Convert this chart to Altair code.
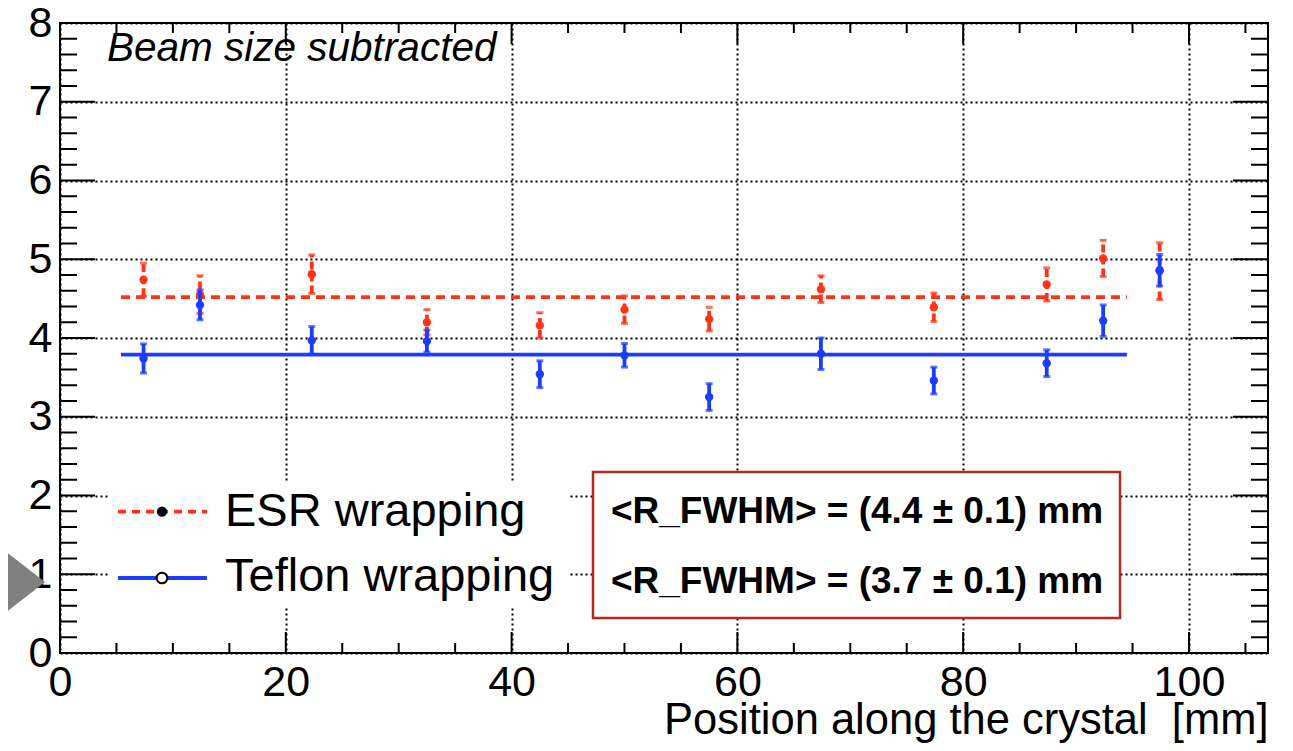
import altair as alt
import pandas as pd

# ---------------- data ----------------
positions = [7.4, 12.4, 22.3, 32.5, 42.5, 50.0, 57.5, 67.4, 77.4, 87.4, 92.4, 97.4]

esr_values = [4.74, 4.55, 4.81, 4.20, 4.16, 4.36, 4.24, 4.62, 4.39, 4.68, 5.01, 4.85]
esr_errors = [0.21, 0.24, 0.245, 0.16, 0.16, 0.175, 0.15, 0.17, 0.18, 0.21, 0.23, 0.36]

teflon_values = [3.74, 4.42, 3.97, 3.96, 3.54, 3.78, 3.25, 3.80, 3.46, 3.68, 4.22, 4.86]
teflon_errors = [0.185, 0.19, 0.175, 0.14, 0.17, 0.15, 0.17, 0.20, 0.17, 0.17, 0.20, 0.20]

fit_range = [5.4, 94.5]
esr_fit = 4.52
teflon_fit = 3.79

legend_labels = ["ESR wrapping", "Teflon wrapping"]
stats_lines = ["<R_FWHM> = (4.4 \u00b1 0.1) mm", "<R_FWHM> = (3.7 \u00b1 0.1) mm"]
note_text = "Beam size subtracted"
x_title = "Position along the crystal \u00a0[mm]"

x_major = [0, 20, 40, 60, 80, 100]
x_minor = [5, 10, 15, 25, 30, 35, 45, 50, 55, 65, 70, 75, 85, 90, 95, 105]
y_major = [0, 1, 2, 3, 4, 5, 6, 7, 8]
y_minor = [round(i * 0.2, 1) for i in range(41) if i % 5]

# ---------------- styling ----------------
W, H = 1208, 630
XMAX = 107
RED = "#ff3316"
BLUE = "#1a3dff"
BOXC = "#b8291b"
FONT = "Liberation Sans"

xs = alt.Scale(domain=[0, XMAX], nice=False, zero=False)
ys = alt.Scale(domain=[0, 8], nice=False, zero=False)

GRID = dict(gridDash=[2, 3], gridColor="black", gridWidth=2, gridOpacity=1)

xaxis = alt.Axis(values=x_major, grid=True, ticks=False, domain=False, labelFlush=False,
                 labelFontSize=43, labelPadding=8, labelColor="black", format="d",
                 title=x_title, titleX=W, titleY=80, titleAlign="right", titleBaseline="alphabetic",
                 titleFontSize=43.5, titleFontWeight="normal", titleColor="black", **GRID)
yaxis = alt.Axis(values=y_major, grid=True, ticks=False, domain=False,
                 labelFontSize=43, labelPadding=8, labelColor="black", format="d",
                 title=None, **GRID)

X = alt.X("x:Q", scale=xs, axis=xaxis)
Y = alt.Y("y:Q", scale=ys, axis=yaxis)

esr = pd.DataFrame({"x": positions, "y": esr_values,
                    "lo": [v - e for v, e in zip(esr_values, esr_errors)],
                    "hi": [v + e for v, e in zip(esr_values, esr_errors)]})
tef = pd.DataFrame({"x": positions, "y": teflon_values,
                    "lo": [v - e for v, e in zip(teflon_values, teflon_errors)],
                    "hi": [v + e for v, e in zip(teflon_values, teflon_errors)]})
fit = pd.DataFrame({"x": [fit_range[0]], "x2": [fit_range[1]],
                    "esr": [esr_fit], "tef": [teflon_fit]})


def series(df, color, dash):
    kw = {"strokeDash": dash} if dash else {}
    bars = alt.Chart(df).mark_rule(color=color, strokeWidth=3.8, **kw).encode(
        x=X, y=alt.Y("lo:Q", scale=ys, axis=yaxis), y2="hi:Q")
    cap_lo = alt.Chart(df).mark_tick(color=color, orient="horizontal", size=7, thickness=3).encode(
        x=X, y=alt.Y("lo:Q", scale=ys, axis=yaxis))
    cap_hi = alt.Chart(df).mark_tick(color=color, orient="horizontal", size=7, thickness=3).encode(
        x=X, y=alt.Y("hi:Q", scale=ys, axis=yaxis))
    pts = alt.Chart(df).mark_circle(color=color, size=70, opacity=1).encode(x=X, y=Y)
    return [bars, cap_lo, cap_hi, pts]


esr_line = alt.Chart(fit).mark_rule(color=RED, strokeWidth=3.8, strokeDash=[9, 6]).encode(
    x=X, x2="x2:Q", y=alt.Y("esr:Q", scale=ys, axis=yaxis))
tef_line = alt.Chart(fit).mark_rule(color=BLUE, strokeWidth=3.8).encode(
    x=X, x2="x2:Q", y=alt.Y("tef:Q", scale=ys, axis=yaxis))

one = pd.DataFrame({"t": [""]})

# legend (white box, lines, markers, text)
leg_box = alt.Chart(one).mark_rect(fill="white").encode(
    x=alt.value(50), x2=alt.value(510), y=alt.value(460), y2=alt.value(584))
leg_esr_line = alt.Chart(one).mark_rule(color=RED, strokeWidth=3.8, strokeDash=[8, 6]).encode(
    x=alt.value(58), x2=alt.value(147), y=alt.value(488.7))
leg_esr_mk = alt.Chart(one).mark_point(filled=True, color="black", size=105, opacity=1, shape="circle").encode(
    x=alt.value(102), y=alt.value(488.7))
leg_tef_line = alt.Chart(one).mark_rule(color=BLUE, strokeWidth=3.8).encode(
    x=alt.value(58), x2=alt.value(147), y=alt.value(555))
leg_tef_mk = alt.Chart(one).mark_point(filled=False, fill="white", fillOpacity=1, stroke="black",
                                      strokeWidth=2, size=115, opacity=1, shape="circle").encode(
    x=alt.value(102), y=alt.value(555))
leg_txt1 = alt.Chart(pd.DataFrame({"t": [legend_labels[0]]})).mark_text(
    font=FONT, fontSize=47, align="left", baseline="middle", color="black").encode(
    x=alt.value(165), y=alt.value(489), text="t:N")
leg_txt2 = alt.Chart(pd.DataFrame({"t": [legend_labels[1]]})).mark_text(
    font=FONT, fontSize=47, align="left", baseline="middle", color="black").encode(
    x=alt.value(165), y=alt.value(554), text="t:N")

# stats box
st_box = alt.Chart(one).mark_rect(fill="white", stroke=BOXC, strokeWidth=2.5).encode(
    x=alt.value(533), x2=alt.value(1060), y=alt.value(449), y2=alt.value(595))
st_txt1 = alt.Chart(pd.DataFrame({"t": [stats_lines[0]]})).mark_text(
    font=FONT, fontSize=37, fontWeight="bold", align="center", baseline="middle", color="black").encode(
    x=alt.value(797), y=alt.value(489), text="t:N")
st_txt2 = alt.Chart(pd.DataFrame({"t": [stats_lines[1]]})).mark_text(
    font=FONT, fontSize=37, fontWeight="bold", align="center", baseline="middle", color="black").encode(
    x=alt.value(797), y=alt.value(559), text="t:N")

note = alt.Chart(pd.DataFrame({"t": [note_text]})).mark_text(
    font=FONT, fontSize=40.5, fontStyle="italic", align="left", baseline="middle", color="black").encode(
    x=alt.value(47), y=alt.value(26), text="t:N")

# ROOT-style inward ticks on all four sides
xmaj = pd.DataFrame({"x": x_major})
xmin = pd.DataFrame({"x": x_minor})
ymaj = pd.DataFrame({"y": y_major})
ymin = pd.DataFrame({"y": y_minor})


def xt(df, ln):
    b = alt.Chart(df).mark_rule(color="black", strokeWidth=2).encode(x=X, y=alt.value(H), y2=alt.value(H - ln))
    t = alt.Chart(df).mark_rule(color="black", strokeWidth=2).encode(x=X, y=alt.value(0), y2=alt.value(ln))
    return [b, t]


def yt(df, ln):
    l = alt.Chart(df).mark_rule(color="black", strokeWidth=2).encode(y=Y, x=alt.value(0), x2=alt.value(ln))
    r = alt.Chart(df).mark_rule(color="black", strokeWidth=2).encode(y=Y, x=alt.value(W), x2=alt.value(W - ln))
    return [l, r]


ticks = xt(xmaj, 21) + xt(xmin, 10) + yt(ymaj, 35) + yt(ymin, 17)

tri = alt.Chart(one).mark_point(filled=True, color="#808080", opacity=1,
                                shape="M -1 -0.78 L 0 0 L -1 0.78 Z", size=10000).encode(
    x=alt.value(-15), y=alt.value(559))

layers = ([esr_line] + series(esr, RED, [8, 4]) + [tef_line] + series(tef, BLUE, None)
          + [leg_box, leg_esr_line, leg_esr_mk, leg_tef_line, leg_tef_mk, leg_txt1, leg_txt2,
             st_box, st_txt1, st_txt2, note] + ticks + [tri])

chart = alt.layer(*layers).properties(
    width=W, height=H,
    autosize=alt.AutoSizeParams(type="none"),
    padding={"left": 52, "top": 15, "right": 15, "bottom": 90},
    background="white",
).configure(font=FONT).configure_view(stroke="black", strokeWidth=2)

chart.save("out.html", embed_options={"renderer": "svg", "actions": False})
